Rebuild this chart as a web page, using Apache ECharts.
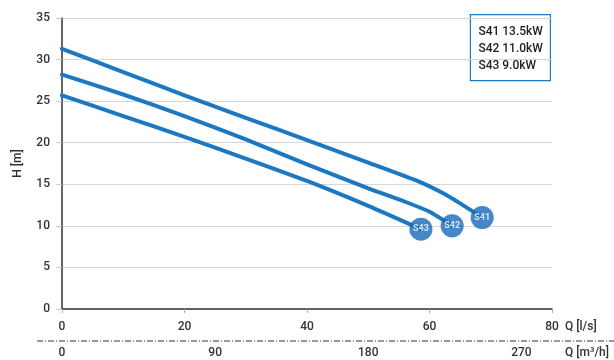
<!DOCTYPE html>
<html>
<head>
<meta charset="UTF-8">
<title>Pump curves</title>
<script src="https://cdn.jsdelivr.net/npm/echarts@6/dist/echarts.min.js"></script>
<style>
  html, body { margin: 0; padding: 0; background: #fff; }
  #main { width: 614px; height: 360px; }
</style>
</head>
<body>
<div id="main"></div>
<script>
// flow Q [l/s] and head H [m] for each pump
var qS41 = [0, 10, 20, 30, 40, 50, 58, 62, 65, 68.6];
var hS41 = [31.3, 28.5, 25.7, 23.0, 20.3, 17.6, 15.4, 14.0, 12.7, 11.0];
var qS42 = [0, 10, 20, 30, 40, 50, 56, 60, 63.7];
var hS42 = [28.2, 25.8, 23.2, 20.4, 17.4, 14.5, 12.9, 11.7, 10.0];
var qS43 = [0, 10, 20, 30, 40, 50, 58.6];
var hS43 = [25.7, 23.2, 20.7, 18.1, 15.4, 12.4, 9.6];
var pumpNames = ['S41', 'S42', 'S43'];
var pumpPower = ['13.5kW', '11.0kW', '9.0kW'];

var blue = '#1b78c2';
var markerBlue = '#1669b9';
var font = 'Roboto';

function pairs(q, h) {
  var out = [];
  for (var i = 0; i < q.length; i++) out.push([q[i], h[i]]);
  return out;
}

var curves = [pairs(qS41, hS41), pairs(qS42, hS42), pairs(qS43, hS43)];

var series = [];
for (var i = 0; i < curves.length; i++) {
  series.push({
    name: pumpNames[i],
    type: 'line',
    smooth: 0.2,
    symbol: 'none',
    lineStyle: { color: blue, width: 4, join: 'round', cap: 'round' },
    data: curves[i],
    z: 2
  });
}
// end markers
var ends = [];
for (var i = 0; i < curves.length; i++) {
  var last = curves[i][curves[i].length - 1];
  ends.push({ value: last, name: pumpNames[i] });
}
series.push({
  type: 'scatter',
  symbolSize: 23,
  itemStyle: { color: markerBlue },
  label: {
    show: true, position: 'inside', formatter: '{b}',
    color: '#fff', fontSize: 9, fontWeight: 'bold', fontFamily: font
  },
  data: ends,
  z: 5
});

var legendLines = [];
for (var i = 0; i < pumpNames.length; i++) legendLines.push(pumpNames[i] + ' ' + pumpPower[i]);

var txt = { color: '#333', fontSize: 12, fontFamily: font, fontWeight: 500 };

var chart = echarts.init(document.getElementById('main'));
chart.setOption({
  animation: false,
  grid: { left: 62, right: 62, top: 18, bottom: 51 },
  xAxis: [{
    type: 'value', min: 0, max: 80, interval: 20,
    name: 'Q [l/s]', nameLocation: 'end', nameGap: 13,
    nameTextStyle: Object.assign({ verticalAlign: 'top', padding: [12, 0, 0, 0] }, txt),
    axisLine: { lineStyle: { color: '#333', width: 1.5 } },
    axisTick: { show: true, length: 4, lineStyle: { color: '#aaa' } },
    axisLabel: Object.assign({ margin: 12 }, txt),
    splitLine: { show: false }
  }, {
    type: 'value', min: 0, max: 288, interval: 90,
    position: 'bottom', offset: 34,
    name: 'Q [m³/h]', nameLocation: 'end', nameGap: 13,
    nameTextStyle: Object.assign({ verticalAlign: 'top', padding: [4, 0, 0, 0] }, txt),
    axisLine: { show: false },
    axisTick: { show: false },
    axisLabel: Object.assign({ margin: 4, showMaxLabel: false }, txt),
    splitLine: { show: false }
  }],
  yAxis: {
    type: 'value', min: 0, max: 35, interval: 5,
    name: 'H [m]', nameLocation: 'middle', nameGap: 38, nameRotate: 90,
    nameTextStyle: txt,
    axisLine: { show: true, lineStyle: { color: '#333', width: 1.5 } },
    axisTick: { show: true, length: 6, lineStyle: { color: '#ccc' } },
    axisLabel: Object.assign({ margin: 12 }, txt),
    splitLine: { show: true, lineStyle: { color: '#d6d6d6', width: 1 } }
  },
  graphic: [{
    type: 'line', shape: { x1: 37, y1: 341, x2: 614, y2: 341 },
    style: { stroke: '#333', lineWidth: 1.2, lineDash: [6, 2, 1, 2] }
  }, {
    type: 'group', right: 63, top: 14,
    children: [{
      type: 'rect', shape: { x: 0, y: 0, width: 80, height: 66 },
      style: { fill: '#fff', stroke: blue, lineWidth: 1.2 }
    }, {
      type: 'text', x: 8, y: 9,
      style: {
        text: legendLines.join('\n'), fill: '#222', lineHeight: 17,
        font: '500 12px ' + font
      }
    }]
  }],
  series: series
});
</script>
</body>
</html>
